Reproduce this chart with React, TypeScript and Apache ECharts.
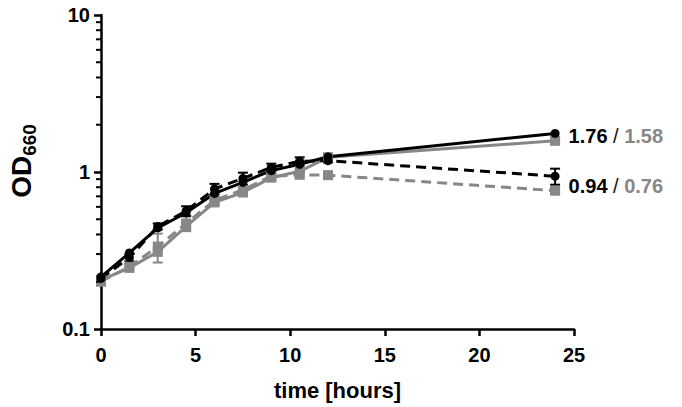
import React, { useEffect, useRef } from "react";
import * as echarts from "echarts";

const times = [0, 1.5, 3, 4.5, 6, 7.5, 9, 10.5, 12, 24];
const blackSolid = [0.215, 0.305, 0.44, 0.55, 0.73, 0.86, 1.02, 1.12, 1.25, 1.76];
const blackDashed = [0.21, 0.285, 0.45, 0.565, 0.78, 0.91, 1.07, 1.17, 1.18, 0.94];
const graySolid = [0.205, 0.245, 0.31, 0.45, 0.64, 0.74, 0.92, 1.01, 1.24, 1.58];
const grayDashed = [0.2, 0.25, 0.335, 0.47, 0.66, 0.77, 0.94, 0.96, 0.955, 0.76];

const errBlackDashed = [0, 0.015, 0.02, 0.04, 0.06, 0.08, 0.06, 0.07, 0.03, 0.11];
const errGrayDashed = [0, 0, 0.07, 0.05, 0.03, 0.03, 0.03, 0.04, 0.04, 0.03];
const errGraySolid = [0, 0, 0, 0, 0, 0, 0, 0, 0.07, 0];

const yTickValues = [0.1, 1, 10];
const yMinorTicks = [0.2, 0.3, 0.4, 0.5, 0.6, 0.7, 0.8, 0.9, 2, 3, 4, 5, 6, 7, 8, 9];

const BLACK = "#000000";
const GRAY = "#878787";
const FONT = "Liberation Sans, Arial, sans-serif";

export default function App() {
  const ref = useRef<HTMLDivElement>(null);
  useEffect(() => {
    document.body.style.margin = "0";
    const chart = echarts.init(ref.current!, null, { renderer: "svg" });

    const errData = (vals: number[], errs: number[]) =>
      times
        .map((t, i) => [t, vals[i], errs[i]])
        .filter((d) => d[2] > 0);

    const errSeries = (vals: number[], errs: number[], color: string) => ({
      type: "custom",
      data: errData(vals, errs),
      z: 1,
      renderItem: (params: any, api: any) => {
        const t = api.value(0);
        const v = api.value(1);
        const e = api.value(2);
        const top = api.coord([t, v + e]);
        const bot = api.coord([t, Math.max(v - e, 0.101)]);
        const w = 5;
        const style = { stroke: color, lineWidth: 2 };
        return {
          type: "group",
          children: [
            { type: "line", shape: { x1: top[0], y1: top[1], x2: bot[0], y2: bot[1] }, style },
            { type: "line", shape: { x1: top[0] - w, y1: top[1], x2: top[0] + w, y2: top[1] }, style },
            { type: "line", shape: { x1: bot[0] - w, y1: bot[1], x2: bot[0] + w, y2: bot[1] }, style },
          ],
        };
      },
    });

    const lineSeries = (
      vals: number[],
      color: string,
      dashed: boolean,
      symbol: string,
      size: number,
      endLabel?: { text: string; offset: number[] }
    ) => ({
      type: "line",
      data: times.map((t, i) => {
        const item: any = { value: [t, vals[i]] };
        if (endLabel && i === times.length - 1) {
          item.label = {
            show: true,
            position: "right",
            distance: 9,
            offset: endLabel.offset,
            formatter: endLabel.text,
            rich: {
              a: { color: BLACK, fontSize: 20, fontWeight: "bold", fontFamily: FONT },
              s: { color: "#111", fontSize: 20, fontWeight: "normal", fontFamily: FONT },
              b: { color: GRAY, fontSize: 20, fontWeight: "bold", fontFamily: FONT },
            },
          };
        }
        return item;
      }),
      symbol,
      symbolSize: size,
      showSymbol: true,
      z: 3,
      lineStyle: { color, width: 3, type: dashed ? [10, 6] : "solid" },
      itemStyle: { color, borderWidth: 0 },
      emphasis: { disabled: true },
    });

    const fmt = (v: number) => v.toFixed(2);
    const last = times.length - 1;

    chart.setOption({
      animation: false,
      grid: { left: 101, top: 15, width: 473, height: 314, outerBoundsMode: "none" },
      xAxis: {
        type: "value",
        min: 0,
        max: 25,
        interval: 5,
        name: "time [hours]",
        nameLocation: "middle",
        nameGap: 50,
        nameTextStyle: { color: BLACK, fontSize: 22, fontWeight: "bold", fontFamily: FONT },
        axisLine: { show: true, onZero: false, lineStyle: { color: BLACK, width: 2.5 } },
        axisTick: { show: true, length: 7, inside: false, lineStyle: { color: BLACK, width: 2.5 } },
        axisLabel: { color: BLACK, fontSize: 20, fontWeight: "bold", fontFamily: FONT, margin: 16 },
        splitLine: { show: false },
      },
      yAxis: {
        type: "log",
        logBase: 10,
        min: yTickValues[0],
        max: yTickValues[yTickValues.length - 1],
        axisLine: { show: true, lineStyle: { color: BLACK, width: 2.5 } },
        axisTick: { show: true, length: 7, lineStyle: { color: BLACK, width: 2.5 } },
        axisLabel: {
          color: BLACK,
          fontSize: 20,
          fontWeight: "bold",
          fontFamily: FONT,
          margin: 11,
          formatter: (v: number) => (v < 1 ? String(v) : String(Math.round(v))),
        },
        splitLine: { show: false },
      },
      graphic: [
        {
          type: "text",
          x: 21,
          y: 161,
          rotation: Math.PI / 2,
          style: {
            text: "{m|OD}{s|660}",
            align: "center",
            verticalAlign: "middle",
            rich: {
              m: { fontSize: 28, fontWeight: "bold", fontFamily: FONT, fill: BLACK, verticalAlign: "bottom" },
              s: { fontSize: 19, fontWeight: "bold", fontFamily: FONT, fill: BLACK, verticalAlign: "bottom", padding: [0, 0, -4, 0] },
            },
          },
        },
      ],
      series: [
        {
          type: "custom",
          data: yMinorTicks.map((v) => [0, v]),
          z: 5,
          silent: true,
          renderItem: (params: any, api: any) => {
            const p = api.coord([0, api.value(1)]);
            return {
              type: "line",
              shape: { x1: p[0] - 5, y1: p[1], x2: p[0], y2: p[1] },
              style: { stroke: BLACK, lineWidth: 2 },
            };
          },
        },
        errSeries(grayDashed, errGrayDashed, GRAY),
        errSeries(graySolid, errGraySolid, GRAY),
        errSeries(blackDashed, errBlackDashed, BLACK),
        lineSeries(grayDashed, GRAY, true, "rect", 10),
        lineSeries(graySolid, GRAY, false, "rect", 10),
        lineSeries(blackDashed, BLACK, true, "circle", 9, {
          text: `{a|${fmt(blackDashed[last])}}{s| / }{b|${fmt(grayDashed[last])}}`,
          offset: [0, 10],
        }),
        lineSeries(blackSolid, BLACK, false, "circle", 9, {
          text: `{a|${fmt(blackSolid[last])}}{s| / }{b|${fmt(graySolid[last])}}`,
          offset: [0, 3],
        }),
      ],
    });
    return () => chart.dispose();
  }, []);
  return (
    <div
      ref={ref}
      style={{ width: 682, height: 407, position: "absolute", left: 0, top: 0, background: "#fff" }}
    />
  );
}
